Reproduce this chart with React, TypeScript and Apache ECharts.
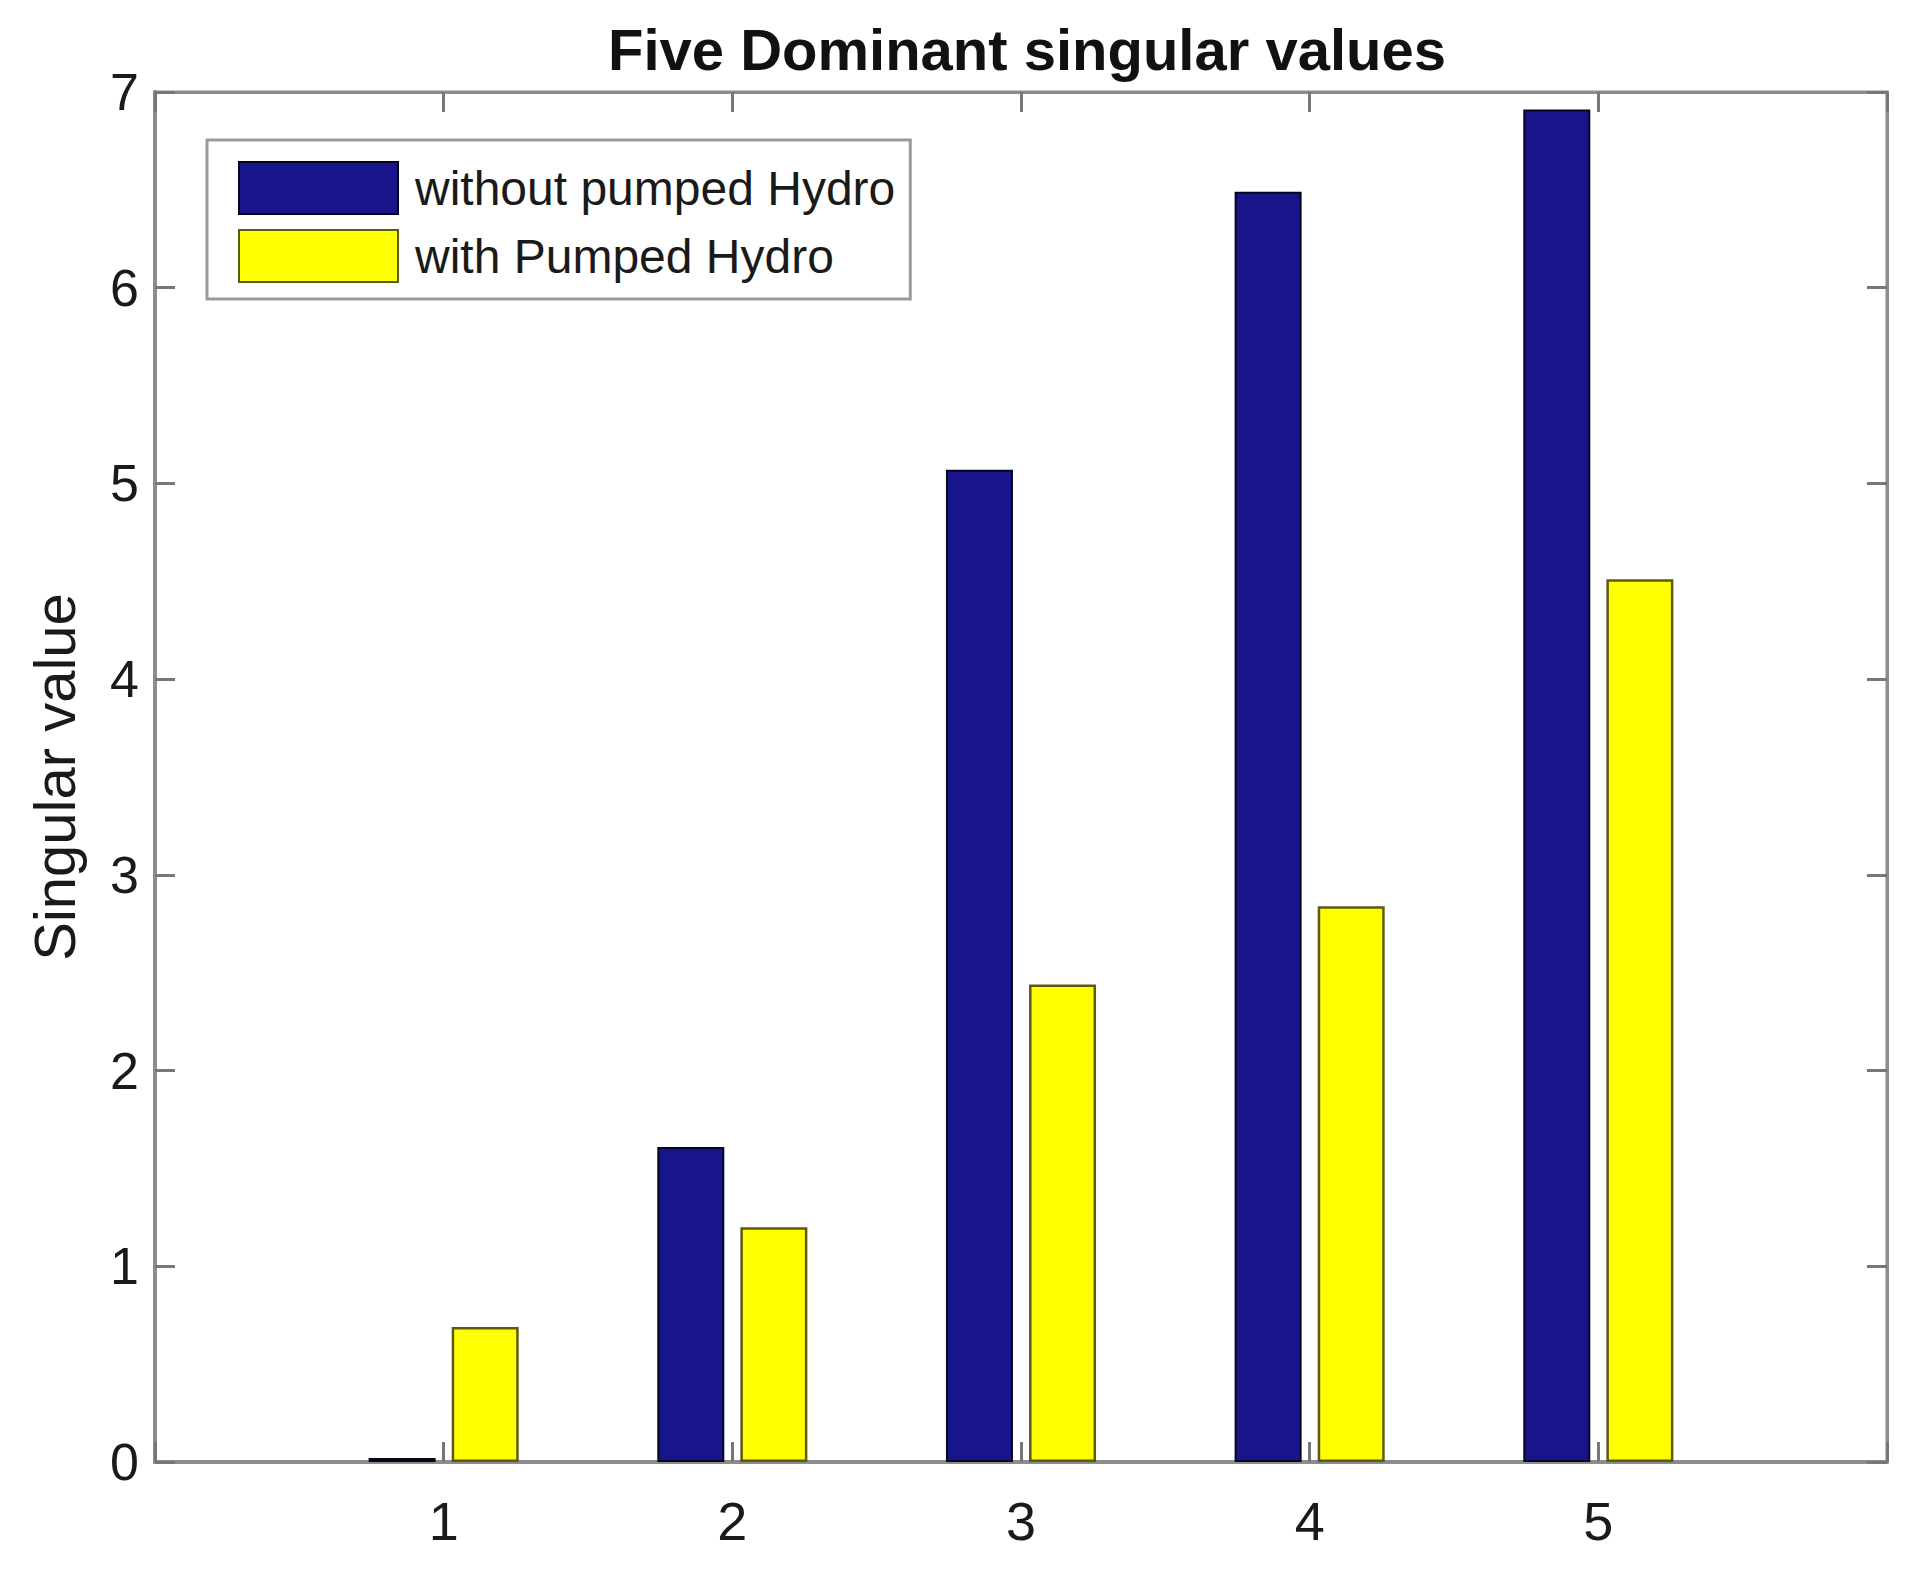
import React, { useEffect, useRef } from "react";
import * as echarts from "echarts";

const categories = [1, 2, 3, 4, 5];
const withoutPumped = [0.02, 1.61, 5.07, 6.49, 6.91];
const withPumped = [0.69, 1.2, 2.44, 2.84, 4.51];
const yTicks = [0, 1, 2, 3, 4, 5, 6, 7];

const seriesNames = ["without pumped Hydro", "with Pumped Hydro"];
const titleText = "Five Dominant singular values";
const yName = "Singular value";

export default function App() {
  const ref = useRef<HTMLDivElement>(null);
  useEffect(() => {
    if (!ref.current) return;
    const chart = echarts.init(ref.current, null, { renderer: "svg" });
    const font = "Liberation Sans, Arial, Helvetica, sans-serif";
    const frameColor = "#8c8c8c";
    const mkTick = () => ({ show: true, inside: true, length: 20, lineStyle: { color: "#777777", width: 3 } });
    const xMin = 0;
    const xMax = categories.length + 1;
    const yMin = yTicks[0];
    const yMax = yTicks[yTicks.length - 1];
    chart.setOption({
      animation: false,
      backgroundColor: "#ffffff",
      textStyle: { fontFamily: font },
      title: {
        text: titleText,
        left: 1027,
        textAlign: "center",
        top: 20,
        padding: 0,
        textStyle: { fontSize: 58, fontWeight: "bold", color: "#111", fontFamily: font },
      },
      grid: {
        left: 155,
        right: 26,
        top: 92,
        bottom: 110,
        containLabel: false,
        show: true,
        borderColor: frameColor,
        borderWidth: 3,
        backgroundColor: "transparent",
      },
      legend: {
        orient: "vertical",
        left: 207,
        top: 140,
        padding: [21, 15, 16, 31],
        itemWidth: 159,
        itemHeight: 52,
        itemGap: 14,
        icon: "rect",
        borderColor: "#9a9a9a",
        borderWidth: 3,
        backgroundColor: "#fff",
        textStyle: { fontSize: 48, color: "#1a1a1a", fontFamily: font, padding: [0, 0, 0, 12] },
        data: seriesNames,
      },
      xAxis: [
        {
          type: "value",
          gridIndex: 0,
          min: xMin,
          max: xMax,
          interval: 1,
          position: "bottom",
          axisLine: { show: true, onZero: false, lineStyle: { color: frameColor, width: 4 } },
          axisTick: mkTick(),
          splitLine: { show: false },
          axisLabel: {
            fontSize: 54,
            color: "#1a1a1a",
            margin: 32,
            fontFamily: font,
            formatter: (v: number) => (categories.indexOf(v) >= 0 ? String(v) : ""),
          },
        },
        {
          type: "value",
          gridIndex: 0,
          min: xMin,
          max: xMax,
          interval: 1,
          position: "top",
          axisLine: { show: true, onZero: false, lineStyle: { color: frameColor, width: 3 } },
          axisTick: mkTick(),
          splitLine: { show: false },
          axisLabel: { show: false },
        },
      ],
      yAxis: [
        {
          type: "value",
          gridIndex: 0,
          min: yMin,
          max: yMax,
          interval: 1,
          position: "left",
          name: yName,
          nameLocation: "middle",
          nameRotate: 90,
          nameGap: 72,
          nameTextStyle: { fontSize: 58, color: "#1a1a1a", fontFamily: font },
          axisLine: { show: true, onZero: false, lineStyle: { color: frameColor, width: 4 } },
          axisTick: mkTick(),
          splitLine: { show: false },
          axisLabel: { fontSize: 52, color: "#1a1a1a", margin: 16, fontFamily: font },
        },
        {
          type: "value",
          gridIndex: 0,
          min: yMin,
          max: yMax,
          interval: 1,
          position: "right",
          axisLine: { show: true, onZero: false, lineStyle: { color: frameColor, width: 3 } },
          axisTick: mkTick(),
          splitLine: { show: false },
          axisLabel: { show: false },
        },
      ],
      series: [
        {
          name: seriesNames[0],
          type: "bar",
          xAxisIndex: 0,
          yAxisIndex: 0,
          barWidth: 67,
          barGap: "24%",
          itemStyle: { color: "#17148c", borderColor: "#050520", borderWidth: 2 },
          data: categories.map((c, i) => [c, withoutPumped[i]]),
        },
        {
          name: seriesNames[1],
          type: "bar",
          xAxisIndex: 0,
          yAxisIndex: 0,
          barWidth: 67,
          barGap: "24%",
          itemStyle: { color: "#ffff00", borderColor: "#5c5a10", borderWidth: 2.5 },
          data: categories.map((c, i) => [c, withPumped[i]]),
        },
        {
          name: "frame",
          type: "line",
          xAxisIndex: 1,
          yAxisIndex: 1,
          silent: true,
          showSymbol: false,
          lineStyle: { opacity: 0 },
          data: [],
        },
      ],
    });
    return () => chart.dispose();
  }, []);
  return (
    <div
      ref={ref}
      style={{ position: "fixed", left: 0, top: 0, width: 1913, height: 1572, background: "#fff" }}
    />
  );
}
